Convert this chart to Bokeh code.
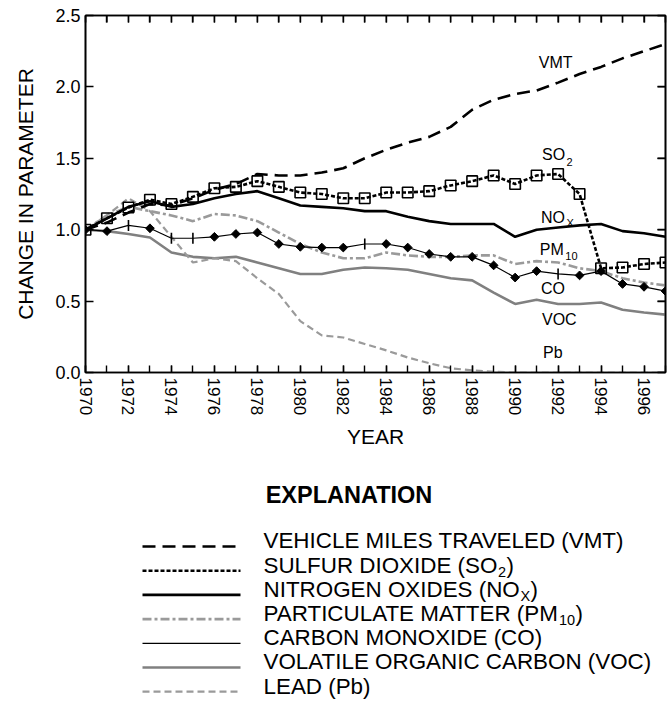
import math
from bokeh.plotting import figure
from bokeh.models import (Range1d, LinearAxis, SingleIntervalTicker, FixedTicker,
                          PrintfTickFormatter, CustomJSTickFormatter, Label)
from bokeh.embed import file_html
from bokeh.resources import INLINE

# ---------------- data ----------------
years = list(range(1970, 1998))
vmt = [1.00, 1.05, 1.12, 1.18, 1.17, 1.22, 1.28, 1.32, 1.39, 1.38, 1.38, 1.40, 1.43, 1.50,
       1.56, 1.61, 1.65, 1.72, 1.84, 1.91, 1.95, 1.975, 2.03, 2.09, 2.14, 2.20, 2.25, 2.30]
so2 = [1.00, 1.08, 1.155, 1.21, 1.18, 1.23, 1.29, 1.30, 1.34, 1.30, 1.26, 1.25, 1.22, 1.22,
       1.26, 1.26, 1.27, 1.31, 1.34, 1.38, 1.32, 1.38, 1.39, 1.25, 0.73, 0.735, 0.76, 0.77]
nox = [1.00, 1.08, 1.16, 1.20, 1.16, 1.18, 1.22, 1.25, 1.27, 1.22, 1.17, 1.16, 1.15, 1.13,
       1.13, 1.09, 1.06, 1.04, 1.04, 1.04, 0.95, 1.00, 1.015, 1.03, 1.04, 0.99, 0.975, 0.95]
pm10 = [1.00, 1.10, 1.16, 1.13, 1.10, 1.06, 1.11, 1.10, 1.06, 0.98, 0.90, 0.84, 0.80, 0.80,
        0.84, 0.82, 0.81, 0.81, 0.82, 0.82, 0.76, 0.78, 0.77, 0.73, 0.71, 0.66, 0.63, 0.61]
co = [1.00, 0.99, 1.03, 1.01, 0.94, 0.94, 0.95, 0.97, 0.98, 0.90, 0.88, 0.875, 0.875, 0.90,
      0.90, 0.875, 0.83, 0.81, 0.81, 0.75, 0.665, 0.71, 0.69, 0.68, 0.71, 0.62, 0.60, 0.57]
voc = [1.00, 0.99, 0.97, 0.945, 0.84, 0.81, 0.80, 0.81, 0.77, 0.73, 0.69, 0.69, 0.72, 0.735,
       0.73, 0.72, 0.69, 0.66, 0.645, 0.56, 0.48, 0.51, 0.48, 0.48, 0.49, 0.44, 0.42, 0.405]
pb = [1.00, 1.10, 1.22, 1.13, 0.95, 0.77, 0.80, 0.78, 0.66, 0.55, 0.36, 0.26, 0.245, 0.20,
      0.155, 0.105, 0.065, 0.03, 0.015, 0.005, 0.0, 0.0, 0.0, 0.0, 0.0, 0.0, 0.0, 0.0]
co_tick_years = [1972, 1974, 1975, 1983, 1992]

y_tick_values = [0.0, 0.5, 1.0, 1.5, 2.0, 2.5]
X_MIN, X_MAX = 1970, 1997
Y_MIN, Y_MAX = 0.0, 2.5

# in-plot labels: (main text, subscript, x year, baseline value, subscript baseline value)
plot_labels = [
    ("VMT", "", 1991.1, 2.13, 2.13),
    ("SO", "2", 1991.25, 1.49, 1.45),
    ("NO", "X", 1991.2, 1.05, 1.02),
    ("PM", "10", 1991.15, 0.826, 0.79),
    ("CO", "", 1991.2, 0.553, 0.553),
    ("VOC", "", 1991.25, 0.336, 0.336),
    ("Pb", "", 1991.3, 0.105, 0.105),
]

legend_entries = [
    ("VEHICLE MILES TRAVELED (VMT)", "", ""),
    ("SULFUR DIOXIDE (SO", "2", ")"),
    ("NITROGEN OXIDES (NO", "X", ")"),
    ("PARTICULATE MATTER (PM", "10", ")"),
    ("CARBON MONOXIDE (CO)", "", ""),
    ("VOLATILE ORGANIC CARBON (VOC)", "", ""),
    ("LEAD (Pb)", "", ""),
]

for arr in (vmt, so2, nox, pm10, co, voc, pb):
    assert len(arr) == len(years)

# ---------------- styles ----------------
FONT = "Liberation Sans"
BLACK = "#000000"
LGRAY = "#9a9a9a"
DGRAY = "#808080"
styles = {
    "VMT": dict(line_color=BLACK, line_width=2.6, line_dash="13 7"),
    "SO2": dict(line_color=BLACK, line_width=2.6, line_dash="4 2"),
    "NOX": dict(line_color=BLACK, line_width=2.6, line_dash="solid"),
    "PM10": dict(line_color=LGRAY, line_width=2.6, line_dash="9 3 3 3"),
    "CO": dict(line_color=BLACK, line_width=1.2, line_dash="solid"),
    "VOC": dict(line_color=DGRAY, line_width=2.6, line_dash="solid"),
    "PB": dict(line_color=LGRAY, line_width=2.2, line_dash="7 4"),
}
legend_keys = ["VMT", "SO2", "NOX", "PM10", "CO", "VOC", "PB"]

# Arial / Liberation Sans advance widths and a few kerning pairs (1/1000 em)
AW = dict(A=667, B=667, C=722, D=722, E=667, F=611, G=778, H=722, I=278, J=500, K=667,
          L=556, M=833, N=722, O=778, P=667, Q=778, R=722, S=667, T=611, U=722, V=667,
          W=944, X=667, Y=667, Z=611, b=556)
AW.update({" ": 278, "(": 333, ")": 333, ".": 278})
for d in "0123456789":
    AW[d] = 556
KERN = {"AT": -74, "TA": -74, "PA": -74, "AV": -74, "VA": -74, "LT": -74, "AY": -74,
        "LY": -74, "LV": -74}


def tw(s, fs):
    w = sum(AW.get(c, 600) for c in s)
    w += sum(KERN.get(s[i:i + 2], 0) for i in range(len(s) - 1))
    return w * fs / 1000.0


BASE_SHIFT = 0.34  # label anchor correction (em) so the baseline lands where wanted

W = 667
H_MAIN = 458
H_LEG = 703 - H_MAIN
B_LEFT, B_RIGHT, B_TOP, B_BOTTOM = 85, 2, 15, H_MAIN - 372
PX_PER_UNIT = (H_MAIN - B_TOP - B_BOTTOM) / (Y_MAX - Y_MIN)
PX_PER_YEAR = (W - B_LEFT - B_RIGHT) / (X_MAX - X_MIN)

# ---------------- main chart ----------------
p = figure(width=W, height=H_MAIN, x_range=Range1d(X_MIN, X_MAX), y_range=Range1d(Y_MIN, Y_MAX),
           output_backend="svg", toolbar_location=None,
           min_border_left=B_LEFT, min_border_right=B_RIGHT, min_border_top=B_TOP,
           min_border_bottom=B_BOTTOM,
           x_axis_label="YEAR", y_axis_label="CHANGE IN PARAMETER")
p.grid.visible = False
p.outline_line_color = BLACK
p.outline_line_width = 1.6
p.background_fill_color = "white"
p.border_fill_color = "white"

xa = p.xaxis[0]
xa.ticker = SingleIntervalTicker(interval=2, num_minor_ticks=2)
xa.major_label_orientation = "vertical"
ya = p.yaxis[0]
ya.ticker = FixedTicker(ticks=y_tick_values)
ya.formatter = PrintfTickFormatter(format="%.1f")

for ax in (xa, ya):
    ax.axis_line_width = 1.6
    ax.axis_line_color = BLACK
    ax.major_tick_line_width = 1.4
    ax.minor_tick_line_width = 1.4
    ax.major_tick_line_color = BLACK
    ax.minor_tick_line_color = BLACK
    ax.major_tick_out = 0
    ax.minor_tick_out = 0
    ax.major_label_text_font = FONT
    ax.major_label_text_color = BLACK
    ax.axis_label_text_font = FONT
    ax.axis_label_text_font_style = "normal"
    ax.axis_label_text_font_size = "21px"
    ax.axis_label_text_color = BLACK

xa.major_tick_in = 7
xa.minor_tick_in = 7
xa.major_label_text_font_size = "17px"
xa.major_label_standoff = 5
xa.axis_label_standoff = 7
ya.major_tick_in = 8
ya.minor_tick_in = 0
ya.major_label_text_font_size = "18px"
ya.major_label_standoff = 5
ya.axis_label_standoff = 15

# top and right frame axes: inward ticks, blank labels
blank = CustomJSTickFormatter(code="return ''")
top_axis = LinearAxis(ticker=SingleIntervalTicker(interval=1, num_minor_ticks=0),
                      formatter=blank, major_tick_in=7, major_tick_out=0,
                      minor_tick_in=0, minor_tick_out=0, major_label_standoff=0,
                      major_label_text_font_size="8px",
                      axis_line_width=1.6, axis_line_color=BLACK,
                      major_tick_line_width=1.4, major_tick_line_color=BLACK)
p.add_layout(top_axis, "above")
right_axis = LinearAxis(ticker=FixedTicker(ticks=y_tick_values),
                        formatter=blank, major_tick_in=8, major_tick_out=0,
                        minor_tick_in=0, minor_tick_out=0, major_label_standoff=0,
                        major_label_text_font_size="8px",
                        axis_line_width=1.6, axis_line_color=BLACK,
                        major_tick_line_width=1.4, major_tick_line_color=BLACK)
p.add_layout(right_axis, "right")

# same edges drawn through the data scales as well
top_len = 7 / PX_PER_UNIT
right_len = 8 / PX_PER_YEAR
p.segment(x0=years, y0=[Y_MAX] * len(years), x1=years, y1=[Y_MAX - top_len] * len(years),
          line_color=BLACK, line_width=1.4)
p.segment(x0=[X_MAX - right_len] * len(y_tick_values), y0=y_tick_values,
          x1=[X_MAX] * len(y_tick_values), y1=y_tick_values,
          line_color=BLACK, line_width=1.4)

p.line(years, voc, **styles["VOC"])
p.line(years, pb, **styles["PB"])
p.line(years, pm10, **styles["PM10"])
p.line(years, nox, **styles["NOX"])
p.line(years, vmt, **styles["VMT"])
p.line(years, co, **styles["CO"])

co_d_x = [y for y in years if y not in co_tick_years]
co_d_y = [v for y, v in zip(years, co) if y not in co_tick_years]
co_t_x = [y for y in years if y in co_tick_years]
co_t_y = [v for y, v in zip(years, co) if y in co_tick_years]
p.scatter(co_d_x, co_d_y, marker="square", angle=math.pi / 4, size=6.2,
          fill_color=BLACK, line_color=BLACK, line_width=1)
p.scatter(co_t_x, co_t_y, marker="dash", angle=math.pi / 2, size=11,
          line_color=BLACK, line_width=1.6)

p.line(years, so2, **styles["SO2"])
p.scatter(years, so2, marker="square", size=10.5, fill_color=None,
          line_color=BLACK, line_width=1.6)

LBL_FS = 16
SUB_FS = 11
for txt, sub, lx, ly, sy in plot_labels:
    p.add_layout(Label(x=lx, y=ly + BASE_SHIFT * LBL_FS / PX_PER_UNIT, text=txt,
                       text_font=FONT, text_font_size=f"{LBL_FS}px",
                       text_color=BLACK, text_baseline="alphabetic", text_align="left"))
    if sub:
        p.add_layout(Label(x=lx, y=sy + BASE_SHIFT * SUB_FS / PX_PER_UNIT,
                           x_offset=tw(txt, LBL_FS) + 1.5, text=sub,
                           text_font=FONT, text_font_size=f"{SUB_FS}px", text_color=BLACK,
                           text_baseline="alphabetic", text_align="left"))

# ---------------- explanation (legend) ----------------
leg = figure(width=W, height=H_LEG, x_range=Range1d(0, W), y_range=Range1d(H_LEG, 0),
             output_backend="svg", toolbar_location=None, min_border=0,
             x_axis_type=None, y_axis_type=None)
leg.outline_line_color = None
leg.grid.visible = False

TITLE_FS = 23.5
leg.add_layout(Label(x=348.5, y=502 - H_MAIN - BASE_SHIFT * TITLE_FS, text="EXPLANATION",
                     text_font=FONT, text_font_size=f"{TITLE_FS}px", text_font_style="bold",
                     text_color=BLACK, text_align="center", text_baseline="alphabetic"))

LEG_FS = 22.4
LEG_SUB = 14.5
row0 = 548.0 - H_MAIN
row_step = 24.2
line_x0, line_x1, text_x = 142, 240, 263
for i, (key, (t1, sub, t2)) in enumerate(zip(legend_keys, legend_entries)):
    base = row0 + i * row_step
    leg.line([line_x0, line_x1], [base - 2, base - 2], **styles[key])
    ty = base - BASE_SHIFT * LEG_FS
    leg.add_layout(Label(x=text_x, y=ty, text=t1, text_font=FONT,
                         text_font_size=f"{LEG_FS}px", text_color=BLACK,
                         text_baseline="alphabetic", text_align="left"))
    if sub:
        xs = text_x + tw(t1, LEG_FS) + 0.5
        leg.add_layout(Label(x=xs, y=base + 4 - BASE_SHIFT * LEG_SUB, text=sub, text_font=FONT,
                             text_font_size=f"{LEG_SUB}px", text_color=BLACK,
                             text_baseline="alphabetic", text_align="left"))
        xs2 = xs + tw(sub, LEG_SUB) + 0.5
        leg.add_layout(Label(x=xs2, y=ty, text=t2, text_font=FONT,
                             text_font_size=f"{LEG_FS}px", text_color=BLACK,
                             text_baseline="alphabetic", text_align="left"))

open("out.html", "w").write(file_html([p, leg], INLINE))
